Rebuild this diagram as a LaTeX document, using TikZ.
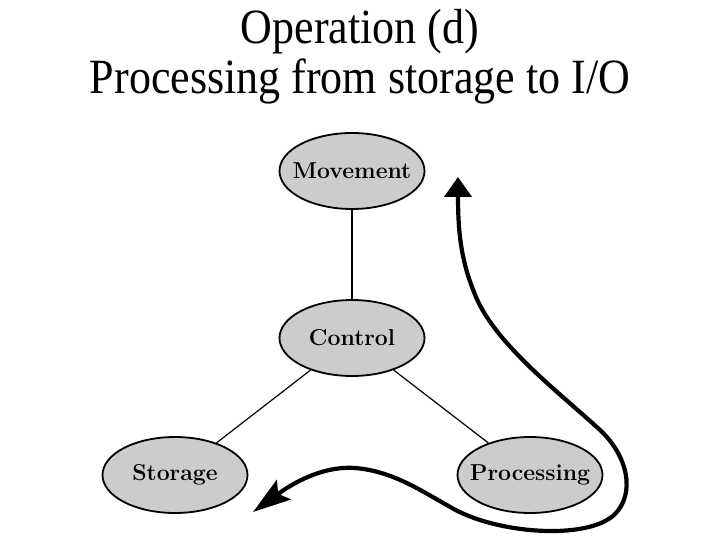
\documentclass[tikz,border=0pt]{standalone}
\usepackage{fontspec}
\setmainfont{Liberation Serif}
\newfontfamily\boxfont{Latin Modern Roman}
\usetikzlibrary{arrows.meta}
\usetikzlibrary{shapes.geometric}

\begin{document}
\begin{tikzpicture}[
         x=1pt, y=-1pt,
         unit/.style = {ellipse, draw=black, line width=1.8pt, fill=black!20,
         minimum width=145pt, minimum height=76pt, inner sep=0pt,
         font=\boxfont\bfseries\fontsize{23}{26}\selectfont,
         execute at begin node={\hbox to 0pt\bgroup\hss},
         execute at end node={\hss\egroup}},
         link/.style = {line width=1.2pt},
         flow/.style = {line width=4.2pt, line cap=round,
         {Stealth[length=38pt,width=24pt,inset=7pt]}-{Triangle[length=20pt,width=27pt]}},
         heading/.style = {font=\fontsize{44}{48}\selectfont, anchor=base,
         inner sep=0pt, yscale=1.12, transform shape}
]

         \useasboundingbox[fill=white] (0,0) rectangle (720,540);

         % title
         \node[heading] (title)    at (360,44) {Operation (d)};
         \node[heading] (subtitle) at (360,94) {Processing from storage to I/O};

         % functional units
         \node[unit] (movement)   at (352,171) {Movement};
         \node[unit] (control)    at (352,338) {Control};
         \node[unit] (storage)    at (175,475) {Storage};
         \node[unit] (processing) at (530,475) {Processing};

         \draw[link] (movement) -- (control);
         \draw[link] (control) -- (storage);
         \draw[link] (control) -- (processing);

         % data path from storage through processing to I/O
         \coordinate (store in) at (253,512);
         \coordinate (io out)   at (458,177);

         \draw[flow] (store in) .. controls (300,478) and (328,466) .. (355,468)
            .. controls (392,471) and (420,490) .. (452,508)
            .. controls (495,533) and (585,541) .. (614,515)
            .. controls (636,494) and (628,456) .. (600,430)
            .. controls (560,393) and (492,342) .. (474,292)
            .. controls (461,260) and (458,232) .. (io out);

\end{tikzpicture}
\end{document}
